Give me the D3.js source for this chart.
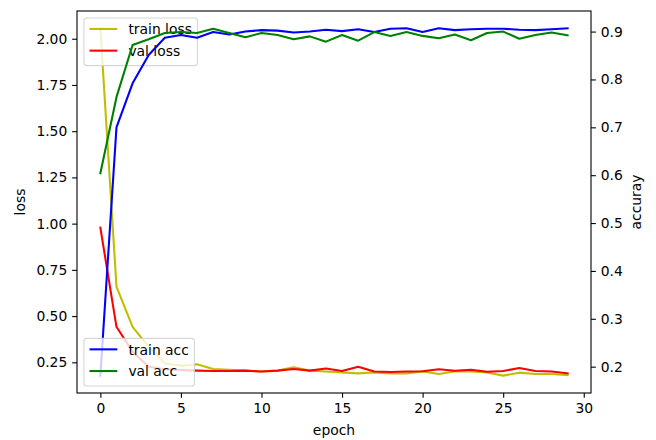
<!DOCTYPE html>
<html>
<head>
<meta charset="utf-8">
<script src="https://cdn.jsdelivr.net/npm/d3@7"></script>
<style>
  html, body { margin: 0; padding: 0; background: #fff; }
  svg { display: block; font-family: "DejaVu Sans", sans-serif; }
</style>
</head>
<body>
<svg id="chart" width="656" height="440"></svg>
<script>
const epochs = d3.range(0, 30);
const trainLoss = [2.056, 0.659, 0.442, 0.334, 0.244, 0.232, 0.239, 0.214, 0.210, 0.205,
                   0.200, 0.205, 0.223, 0.205, 0.200, 0.195, 0.190, 0.195, 0.190, 0.190,
                   0.200, 0.187, 0.200, 0.200, 0.195, 0.178, 0.194, 0.187, 0.187, 0.180];
const valLoss   = [0.978, 0.442, 0.307, 0.226, 0.212, 0.208, 0.205, 0.203, 0.203, 0.205,
                   0.200, 0.205, 0.214, 0.205, 0.217, 0.203, 0.226, 0.200, 0.198, 0.200,
                   0.202, 0.212, 0.204, 0.210, 0.199, 0.203, 0.219, 0.203, 0.200, 0.190];
const trainAcc  = [0.181, 0.700, 0.792, 0.851, 0.887, 0.893, 0.887, 0.899, 0.894, 0.900,
                   0.903, 0.902, 0.898, 0.900, 0.904, 0.901, 0.905, 0.899, 0.906, 0.907,
                   0.899, 0.907, 0.903, 0.905, 0.906, 0.906, 0.904, 0.903, 0.905, 0.907];
const valAcc    = [0.604, 0.763, 0.872, 0.884, 0.897, 0.899, 0.897, 0.906, 0.897, 0.888,
                   0.897, 0.893, 0.884, 0.890, 0.879, 0.893, 0.881, 0.899, 0.891, 0.899,
                   0.891, 0.886, 0.894, 0.882, 0.897, 0.900, 0.885, 0.893, 0.898, 0.892];
const xTicks = [0, 5, 10, 15, 20, 25, 30];
const lossTicks = [0.25, 0.50, 0.75, 1.00, 1.25, 1.50, 1.75, 2.00];
const accTicks = [0.2, 0.3, 0.4, 0.5, 0.6, 0.7, 0.8, 0.9];

const svg = d3.select("#chart");
const L = 77, R = 591, T = 11, B = 393;
const FS = 13.89;
const tick = 4.86;

const x = d3.scaleLinear().domain([-1.45, 30.45]).range([L, R]);
const yL = d3.scaleLinear().domain([0.084, 2.15]).range([B, T]);
const yR = d3.scaleLinear().domain([0.145, 0.943]).range([B, T]);

svg.append("defs").append("clipPath").attr("id", "clip")
  .append("rect").attr("x", L).attr("y", T).attr("width", R - L).attr("height", B - T);

function styleAxis(g) {
  g.select(".domain").remove();
  g.selectAll(".tick line").attr("stroke", "#000").attr("stroke-width", 1.1);
  g.selectAll(".tick text").attr("fill", "#000").style("font-size", FS + "px")
    .style("font-family", "'DejaVu Sans', sans-serif");
}

svg.append("g").attr("transform", `translate(0,${B})`)
  .call(d3.axisBottom(x).tickValues(xTicks).tickFormat(d3.format("d")).tickSize(tick).tickPadding(tick))
  .call(styleAxis);
svg.append("g").attr("transform", `translate(${L},0)`)
  .call(d3.axisLeft(yL).tickValues(lossTicks).tickFormat(d3.format(".2f")).tickSize(tick).tickPadding(tick))
  .call(styleAxis);
svg.append("g").attr("transform", `translate(${R},0)`)
  .call(d3.axisRight(yR).tickValues(accTicks).tickFormat(d3.format(".1f")).tickSize(tick).tickPadding(tick))
  .call(styleAxis);

// axis labels
svg.append("text").attr("x", (L + R) / 2).attr("y", 435).attr("text-anchor", "middle")
  .style("font-size", FS + "px").text("epoch");
svg.append("text").attr("transform", `translate(25,${(T + B) / 2}) rotate(-90)`)
  .attr("text-anchor", "middle").style("font-size", FS + "px").text("loss");
svg.append("text").attr("transform", `translate(641,${(T + B) / 2}) rotate(-90)`)
  .attr("text-anchor", "middle").style("font-size", FS + "px").text("accuray");

const plot = svg.append("g").attr("clip-path", "url(#clip)");

function drawLine(g, vals, yScale, color) {
  const line = d3.line().x((d, i) => x(epochs[i])).y(d => yScale(d));
  g.append("path").datum(vals).attr("d", line).attr("fill", "none")
    .attr("stroke", color).attr("stroke-width", 2.08)
    .attr("stroke-linejoin", "round").attr("stroke-linecap", "square");
}

function drawLegend(items, corner) {
  const pad = 0.4 * FS, handleLen = 2.0 * FS, textPad = 0.8 * FS, rowH = 21.7;
  const g = svg.append("g");
  const frame = g.append("rect");
  const texts = [];
  const boxX = L + 6.95;
  const h = items.length * rowH + 4.3;
  const boxY = corner === "top" ? T + 6.95 : B - 6.95 - h;
  items.forEach((it, i) => {
    const cy = boxY + 11 + i * rowH;
    g.append("line").attr("x1", boxX + pad).attr("x2", boxX + pad + handleLen)
      .attr("y1", cy).attr("y2", cy).attr("stroke", it.color).attr("stroke-width", 2.08);
    const t = g.append("text").attr("x", boxX + pad + handleLen + textPad).attr("y", cy + 5.2)
      .style("font-size", FS + "px").attr("fill", "#000").text(it.label);
    texts.push(t);
  });
  const tw = d3.max(texts, t => t.node().getComputedTextLength());
  frame.attr("x", boxX).attr("y", boxY).attr("width", pad + handleLen + textPad + tw + pad)
    .attr("height", h).attr("rx", 2.8).attr("ry", 2.8)
    .attr("fill", "#fff").attr("fill-opacity", 0.8)
    .attr("stroke", "#cccccc").attr("stroke-opacity", 0.8).attr("stroke-width", 1.1);
}

// loss axes
drawLine(plot, trainLoss, yL, "#bfbf00");
drawLine(plot, valLoss, yL, "#ff0000");
drawLegend([{label: "train loss", color: "#bfbf00"}, {label: "val loss", color: "#ff0000"}], "top");

// accuracy axes
const plot2 = svg.append("g").attr("clip-path", "url(#clip)");
drawLine(plot2, trainAcc, yR, "#0000ff");
drawLine(plot2, valAcc, yR, "#008000");
drawLegend([{label: "train acc", color: "#0000ff"}, {label: "val acc", color: "#008000"}], "bottom");

// frame
svg.append("rect").attr("x", L).attr("y", T).attr("width", R - L).attr("height", B - T)
  .attr("fill", "none").attr("stroke", "#000").attr("stroke-width", 1.1);
</script>
</body>
</html>
